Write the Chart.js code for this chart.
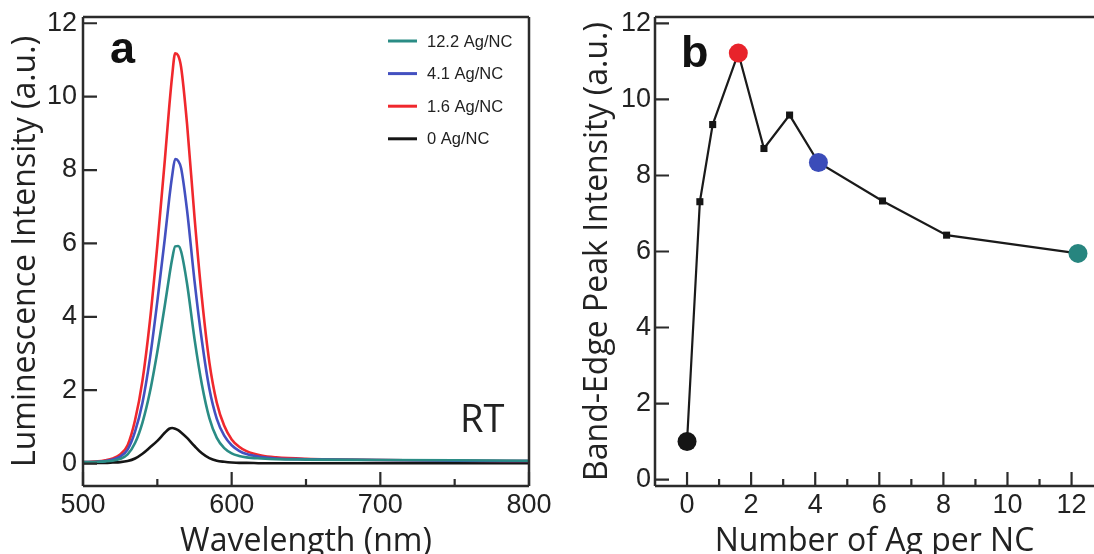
<!DOCTYPE html>
<html><head><meta charset="utf-8">
<script src="https://cdn.jsdelivr.net/npm/chart.js@4.4.1/dist/chart.umd.min.js"></script>
<style>
html,body{margin:0;padding:0;background:#fff;overflow:hidden;}
#wrap{position:relative;width:1094px;height:554px;}
canvas{position:absolute;top:0;}
#ca{left:0;} #cb{left:547px;}
</style></head><body>
<div id="wrap"><canvas id="ca" width="562" height="554" style="width:562px;height:554px"></canvas><canvas id="cb" width="547" height="554" style="width:547px;height:554px"></canvas></div>
<script>
// ---------- Panel a data ----------
const wavelengthNm = [500,510,515,520,525,530,535,540,545,550,555,558,560,562,564,566,570,575,580,585,590,595,600,605,610,620,630,650,700,750,800];
const lum_12_2 = [0.04,0.05,0.06,0.08,0.13,0.25,0.56,1.12,1.95,3.05,4.30,5.10,5.58,5.92,5.93,5.78,4.90,3.40,2.15,1.24,0.70,0.42,0.28,0.21,0.17,0.14,0.12,0.11,0.10,0.09,0.08];
const lum_4_1  = [0.04,0.05,0.07,0.11,0.19,0.38,0.87,1.66,2.86,4.42,6.12,7.22,7.85,8.30,8.25,8.05,6.90,4.98,3.34,2.04,1.22,0.76,0.50,0.35,0.26,0.18,0.14,0.12,0.10,0.08,0.07];
const lum_1_6  = [0.04,0.06,0.09,0.14,0.25,0.50,1.18,2.26,3.88,5.95,8.25,9.72,10.58,11.18,11.12,10.80,9.25,6.72,4.50,2.76,1.66,1.03,0.66,0.46,0.34,0.22,0.17,0.13,0.10,0.08,0.07];
const lum_0    = [0.02,0.02,0.02,0.03,0.04,0.07,0.14,0.27,0.44,0.62,0.84,0.95,0.97,0.95,0.91,0.85,0.70,0.48,0.28,0.15,0.08,0.05,0.03,0.02,0.02,0.01,0.01,0.01,0.01,0.01,0.01];
const seriesLabelsA = ['12.2 Ag/NC','4.1 Ag/NC','1.6 Ag/NC','0 Ag/NC'];
const xTicksA = [500,600,700,800];
const xMinorA = [550,650,750];
const yTicksA = [0,2,4,6,8,10,12];

// ---------- Panel b data ----------
const agPerNC = [0,0.4,0.8,1.6,2.4,3.2,4.1,6.1,8.1,12.2];
const peakIntensity = [1.0,7.31,9.34,11.22,8.71,9.59,8.34,7.33,6.43,5.95];
const highlighted = [0,1.6,4.1,12.2];
const xTicksB = [0,2,4,6,8,10,12];
const xMinorB = [1,3,5,7,9,11];
const yTicksB = [0,2,4,6,8,10,12];

// ---------- styles ----------
const C_TEAL = '#2a8c85', C_BLUE = '#4350c0', C_RED = '#f0282d', C_BLACK = '#151515';
const AXIS = '#2b2b2b';
const TICK_FONT = {family:'"Liberation Sans", Arial, sans-serif', size:27};
const TITLE_FONT = {family:'"Open Sans", sans-serif', size:32, lineHeight:1.2};

function noEdgePad(s){ s.paddingLeft = 0; s.paddingRight = 0; }

function boxPlugin(sides, cfg){
  return {
    id:'box',
    afterDraw(chart){
      const {ctx, chartArea:a, scales:{x,y}} = chart;
      ctx.save();
      ctx.strokeStyle = AXIS; ctx.lineWidth = 2.5; ctx.lineCap='butt';
      ctx.beginPath();
      if (sides.left){ctx.moveTo(a.left, a.top); ctx.lineTo(a.left, a.bottom);}
      if (sides.bottom){ctx.moveTo(a.left, a.bottom); ctx.lineTo(a.right, a.bottom);}
      if (sides.top){ctx.moveTo(a.left, a.top); ctx.lineTo(a.right, a.top);}
      if (sides.right){ctx.moveTo(a.right, a.top); ctx.lineTo(a.right, a.bottom);}
      ctx.stroke();
      ctx.lineWidth = 2.2;
      ctx.beginPath();
      cfg.xMajor.forEach(v=>{const p=x.getPixelForValue(v); ctx.moveTo(p,a.bottom); ctx.lineTo(p,a.bottom-14);});
      cfg.xMinor.forEach(v=>{const p=x.getPixelForValue(v); ctx.moveTo(p,a.bottom); ctx.lineTo(p,a.bottom-7);});
      cfg.yMajor.forEach(v=>{const p=y.getPixelForValue(v); ctx.moveTo(a.left,p); ctx.lineTo(a.left+14,p);});
      ctx.stroke();
      ctx.restore();
    }
  };
}

function textPlugin(drawFn){
  return {id:'txt', afterDraw(chart){ const ctx=chart.ctx; ctx.save(); drawFn(chart, ctx); ctx.restore(); }};
}

// ---------- Panel a ----------
const colorsA = [C_TEAL, C_BLUE, C_RED, C_BLACK];
const seriesA = [lum_12_2, lum_4_1, lum_1_6, lum_0];

new Chart(document.getElementById('ca'), {
  type:'line',
  data:{
    datasets: seriesA.map((s,i)=>({
      label: seriesLabelsA[i],
      data: s.map((v,k)=>({x:wavelengthNm[k], y:v})),
      borderColor: colorsA[i], borderWidth: 2.6,
      pointRadius: 0, fill:false, cubicInterpolationMode:'monotone'
    }))
  },
  options:{
    responsive:false, animation:false, devicePixelRatio:1,
    layout:{autoPadding:false, padding:{left:0, right:33, top:17, bottom:0}},
    plugins:{legend:{display:false}, tooltip:{enabled:false}},
    scales:{
      x:{type:'linear', min:500, max:800,
        afterBuildTicks(s){ s.ticks = xTicksA.map(v=>({value:v})); },
        afterFit(s){ s.height = 68; noEdgePad(s); },
        grid:{display:false, drawTicks:false}, border:{display:false},
        ticks:{font:TICK_FONT, color:'#222', padding:3, maxRotation:0, autoSkip:false},
        title:{display:true, text:'Wavelength (nm)', font:{...TITLE_FONT, lineHeight:0.7}, color:'#222', padding:{top:0,bottom:1}}
      },
      y:{type:'linear', min:-0.61, max:12.17,
        afterBuildTicks(s){ s.ticks = yTicksA.map(v=>({value:v})); },
        afterFit(s){ s.width = 83; s.paddingTop = 0; s.paddingBottom = 0; },
        grid:{display:false, drawTicks:false}, border:{display:false},
        ticks:{font:TICK_FONT, color:'#222', padding:6},
        title:{display:true, text:'Luminescence Intensity (a.u.)', font:TITLE_FONT, color:'#222', padding:{top:7,bottom:0}}
      }
    }
  },
  plugins:[
    boxPlugin({left:true,bottom:true,top:true,right:true},{xMajor:xTicksA,xMinor:xMinorA,yMajor:yTicksA}),
    textPlugin((chart,ctx)=>{
      const a = chart.chartArea;
      ctx.fillStyle='#111';
      ctx.font='bold 45px "Liberation Sans", Arial, sans-serif';
      ctx.textBaseline='alphabetic'; ctx.textAlign='left';
      ctx.fillText('a', a.left+27, 63);
      ctx.font='38px "Open Sans", sans-serif';
      ctx.fillStyle='#222';
      ctx.fillText('RT', a.left+377, 432);
      // legend
      ctx.font='16.5px "Liberation Sans", Arial, sans-serif';
      ctx.textBaseline='middle';
      chart.data.datasets.forEach((ds,i)=>{
        const yy = 41 + i*32.6;
        ctx.strokeStyle = ds.borderColor; ctx.lineWidth=3;
        ctx.beginPath(); ctx.moveTo(a.right-141, yy); ctx.lineTo(a.right-112, yy); ctx.stroke();
        ctx.fillStyle='#222';
        ctx.fillText(ds.label, a.right-102, yy+1);
      });
    })
  ]
});

// ---------- Panel b ----------
const markerColor = v => ({0:C_BLACK, 1.6:'#e8232b', 4.1:'#3b4cb9', 12.2:'#27857f'})[v] || C_BLACK;

new Chart(document.getElementById('cb'), {
  type:'line',
  data:{
    datasets:[{
      label:'Band-edge peak',
      data: agPerNC.map((v,k)=>({x:v, y:peakIntensity[k]})),
      borderColor:'#1a1a1a', borderWidth:2.2, fill:false, tension:0,
      pointStyle: agPerNC.map(v=>highlighted.includes(v)?'circle':'rect'),
      pointRadius: agPerNC.map(v=>highlighted.includes(v)?9.5:5),
      pointBackgroundColor: agPerNC.map(markerColor),
      pointBorderColor: agPerNC.map(markerColor),
      pointBorderWidth: 0
    }]
  },
  options:{
    responsive:false, animation:false, devicePixelRatio:1,
    layout:{autoPadding:false, padding:{left:0, right:0, top:17, bottom:0}},
    plugins:{legend:{display:false}, tooltip:{enabled:false}},
    scales:{
      x:{type:'linear', min:-1, max:12.7,
        afterBuildTicks(s){ s.ticks = xTicksB.map(v=>({value:v})); },
        afterFit(s){ s.height = 68; noEdgePad(s); },
        grid:{display:false, drawTicks:false}, border:{display:false},
        ticks:{font:TICK_FONT, color:'#222', padding:3, maxRotation:0, autoSkip:false},
        title:{display:true, text:'Number of Ag per NC', font:{...TITLE_FONT, lineHeight:0.7}, color:'#222', padding:{top:0,bottom:1}}
      },
      y:{type:'linear', min:-0.17, max:12.17,
        afterBuildTicks(s){ s.ticks = yTicksB.map(v=>({value:v})); },
        afterFit(s){ s.width = 108; s.paddingTop = 0; s.paddingBottom = 0; },
        grid:{display:false, drawTicks:false}, border:{display:false},
        ticks:{font:TICK_FONT, color:'#222', padding:4},
        title:{display:true, text:'Band-Edge Peak Intensity (a.u.)', font:TITLE_FONT, color:'#222', padding:{top:32,bottom:0}}
      }
    }
  },
  plugins:[
    boxPlugin({left:true,bottom:true,top:true,right:false},{xMajor:xTicksB,xMinor:xMinorB,yMajor:yTicksB}),
    textPlugin((chart,ctx)=>{
      const a = chart.chartArea;
      ctx.fillStyle='#111';
      ctx.font='bold 45px "Liberation Sans", Arial, sans-serif';
      ctx.textBaseline='alphabetic'; ctx.textAlign='left';
      ctx.fillText('b', a.left+26, 67);
    })
  ]
});
</script>
</body></html>
